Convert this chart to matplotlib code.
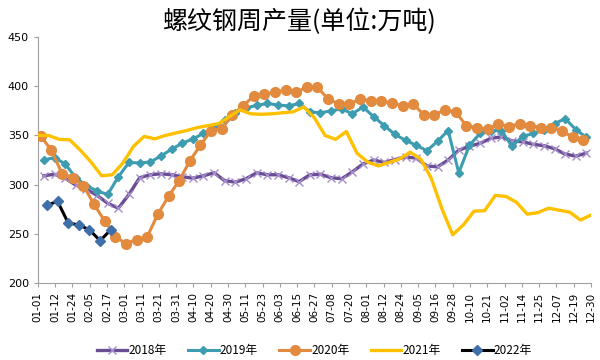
import matplotlib
matplotlib.use('Agg')
import matplotlib.pyplot as plt
import numpy as np

plt.rcParams['font.family'] = ['Noto Sans CJK SC', 'DejaVu Sans']

# x tick labels (dates, month-day)
tick_labels = ['01-01', '01-12', '01-24', '02-05', '02-17', '03-01', '03-11',
               '03-21', '03-31', '04-10', '04-20', '04-30', '05-11', '05-23',
               '06-03', '06-15', '06-27', '07-08', '07-20', '08-01', '08-12',
               '08-24', '09-05', '09-16', '09-28', '10-10', '10-21', '11-02',
               '11-14', '11-25', '12-07', '12-19', '12-30']

# weekly output, 10k tons
y2018 = [309, 310.5, 306.5, 299.5, 295.5, 289, 281, 276, 290, 307, 310, 311,
         310, 308, 306.5, 309, 312, 304, 302.5, 306, 312, 310, 310, 307, 303,
         310, 310.5, 307, 306, 313, 321, 325, 322.5, 325.5, 328, 327, 319, 318,
         325, 335, 339, 342, 347, 348.5, 344.5, 343.5, 341, 339.5, 336.5, 331,
         329, 332]
y2019 = [325, 327.5, 321, 307, 299, 293.5, 290, 308, 322.5, 322, 323, 329,
         336, 342, 346.5, 352, 358, 366, 373, 378, 380.5, 382.5, 381, 380,
         382.5, 374, 373, 375, 377, 372, 379, 369, 360, 351, 345, 340, 334.5,
         344, 355, 312, 340, 352, 355, 355, 339, 349, 352, 356, 362, 367, 356,
         348]
y2020 = [349, 335, 311, 307, 299, 280, 263, 247, 240, 244, 247, 270, 288, 304,
         324, 340, 355, 357, 371, 380, 390, 392, 394, 396, 394, 399, 399, 387,
         382, 382, 387, 385, 385, 383, 380, 382, 371, 371, 376, 373.5, 360,
         357.5, 356.5, 362, 359, 362, 360, 358, 358, 354, 348.5, 345.5]
y2021 = [350, 350, 346, 345.5, 335, 323, 309, 310, 322, 339, 349, 346.5, 350,
         352.5, 355, 358, 360, 362, 369, 376, 372, 371.5, 372, 373, 374, 379,
         368, 350, 346, 354, 332, 323, 319, 322.5, 326, 333, 326, 306, 275,
         249, 259, 273, 273.5, 289, 288, 282, 270, 271.5, 276, 274, 272, 264,
         269]
y2022 = [279, 283, 261, 259, 254, 243, 254]

# first day of each series (day of year), data is weekly
start_days = {'2018': 4, '2019': 4, '2020': 2, '2021': 0, '2022': 6}


def days(name, values):
    return start_days[name] + 7 * np.arange(len(values))


fig = plt.figure(figsize=(6, 3.6), dpi=100)
ax = fig.add_axes([0.063, 0.214, 0.922, 0.683])

ax.plot(days('2018', y2018), y2018, color='#6A4C93', lw=2.4, marker='x',
        ms=6, mew=1.0, mec='#A48FCB', label='2018年', zorder=2)
ax.plot(days('2019', y2019), y2019, color='#3E9CB0', lw=2.2, marker='D',
        ms=4.5, mec='#3E9CB0', label='2019年', zorder=3)
ax.plot(days('2020', y2020), y2020, color='#E28A3E', lw=2.2, marker='o',
        ms=7, mec='#E28A3E', label='2020年', zorder=4)
ax.plot(days('2021', y2021), y2021, color='#FFC000', lw=2.4,
        label='2021年', zorder=5)
ax.plot(days('2022', y2022), y2022, color='black', lw=2.2, marker='D',
        ms=5, mfc='#3F6FA8', mec='#3F6FA8', label='2022年', zorder=6)

ax.set_xlim(0, 364)
ax.set_ylim(200, 450)
ax.set_yticks([200, 250, 300, 350, 400, 450])
ax.set_xticks(np.linspace(0, 364, len(tick_labels)))
ax.set_xticklabels(tick_labels, rotation=90, fontsize=7.5,
                   family=['DejaVu Sans'])
for lab in ax.get_yticklabels():
    lab.set_fontsize(8)
    lab.set_family(['DejaVu Sans'])

for s in ['top', 'right']:
    ax.spines[s].set_visible(False)
for s in ['left', 'bottom']:
    ax.spines[s].set_color('#A0A0A0')
ax.tick_params(axis='both', colors='#A0A0A0', labelcolor='black',
               length=3, direction='out')

fig.text(0.5, 0.94, '螺纹钢周产量(单位:万吨)', ha='center', va='center',
         fontsize=18)

ax.legend(loc='lower center', bbox_to_anchor=(0.5, -0.345), ncol=5,
          frameon=False, fontsize=8.5, handlelength=2.6, columnspacing=1.8,
          handletextpad=0.1)

fig.savefig('out.png', dpi=100)
